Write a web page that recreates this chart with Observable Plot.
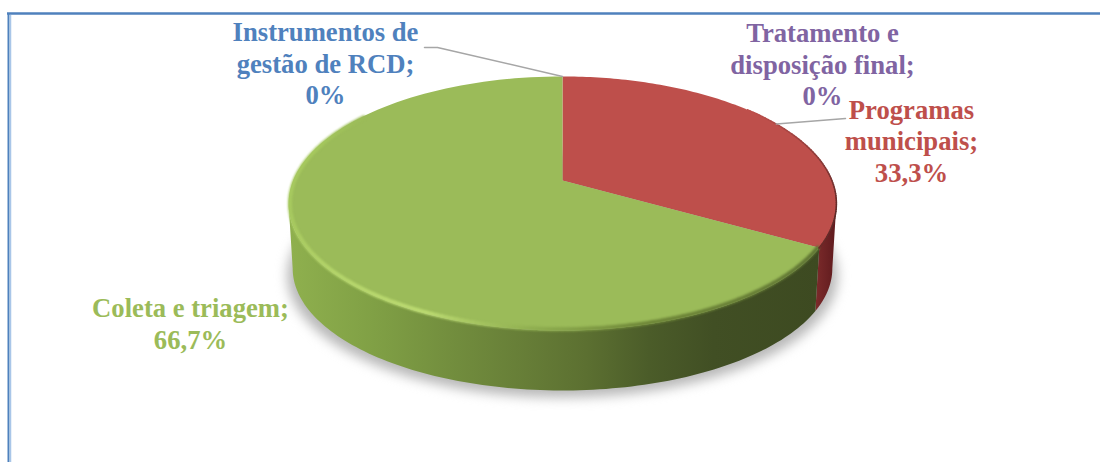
<!DOCTYPE html>
<html><head><meta charset="utf-8">
<style>html,body{margin:0;padding:0;background:#fff}svg{display:block}</style>
<script src="https://cdn.jsdelivr.net/npm/d3@7"></script>
<script src="https://cdn.jsdelivr.net/npm/@observablehq/plot@0.6"></script>
</head><body><div id="chart"></div>
<script>
const categories = ["Programas municipais", "Coleta e triagem", "Tratamento e disposição final", "Instrumentos de gestão de RCD"];
const values = [33.3, 66.7, 0, 0];
const valueLabels = ["33,3%", "66,7%", "0%", "0%"];
const wrappedNames = ["Programas\nmunicipais;", "Coleta e triagem;", "Tratamento e\ndisposição final;", "Instrumentos de\ngestão de RCD;"];
const topColors = ["#be4f4b", "#9bbb59", "#8064a2", "#4f81bd"];

// view geometry: the perspective of the tilted disc and the wall below it
const K = 0.181, CX = 562, CY = 180, AX = 269.4, BY = 122.9;
const RIM_Y = -(203 - CY) / BY, WALL_SX = 0.985, WALL_SY = 0.96, WALL_DROP = 65 / BY;
const invX = px => (px - CX) / AX, invY = py => -(py - CY) / BY;
const project = (deg, r = 1) => {
  const a = deg * Math.PI / 180, u = r * Math.sin(a), v = r * Math.cos(a), w = 1 + K * v;
  return {x: u / w, y: v / w};
};
const wallPoint = deg => {
  const p = project(deg);
  return {x: p.x * WALL_SX, y: RIM_Y + (p.y - RIM_Y) * WALL_SY - WALL_DROP};
};
const range = (a, b, n = 120) => d3.range(n + 1).map(i => a + (b - a) * i / n);

// cumulative slice angles, clockwise from 12 o'clock
const total = d3.sum(values);
let acc = 0;
const slices = values.map((v, i) => {
  const start = acc / total * 360; acc += v;
  return {name: categories[i], start, end: acc / total * 360, color: topColors[i]};
});
const [red, green] = slices;

const facePts = s => s.end > s.start
  ? [{x: 0, y: 0}, ...range(s.start, s.end).map(d => project(d)), {x: 0, y: 0}]
  : [];
const LEFT_TANGENT = 259.6, RIGHT_TANGENT = 100.4;
const wallPts = (a, b) => [...range(a, b).map(d => project(d)), ...range(b, a).map(wallPoint)];

const greenStops = [[0, "#8fb04e"], [.16, "#80a045"], [.32, "#718c3d"], [.45, "#667d37"], [.56, "#5c7031"], [.68, "#4b5c29"], [.8, "#414f24"], [1, "#3d4a21"]];
const redStops = [[0, "#7c2b2b"], [1, "#5e1a1d"]];
const gradient = (id, stops) => {
  const g = document.createElementNS("http://www.w3.org/2000/svg", "linearGradient");
  g.setAttribute("id", id);
  stops.forEach(([o, c]) => {
    const s = document.createElementNS("http://www.w3.org/2000/svg", "stop");
    s.setAttribute("offset", o); s.setAttribute("stop-color", c); g.appendChild(s);
  });
  return g;
};
const defsMark = () => {
  const d = document.createElementNS("http://www.w3.org/2000/svg", "defs");
  d.appendChild(gradient("wallGreen", greenStops));
  d.appendChild(gradient("wallRed", redStops));
  return d;
};

// bevel along the near rim of the disc
const bevelStops = [[120, "#5f7434"], [165, "#6e8638"], [185, "#8fae50"], [205, "#bcdb72"], [225, "#b6d66c"], [250, "#a8ca60"], [285, "#a6c95e"], [305, "#9bbb59"]];
const bevelColor = d3.scaleLinear().domain(bevelStops.map(d => d[0])).range(bevelStops.map(d => d[1]));
const bevel = range(120, 305, 185).map(d => ({...insetRim(d), c: bevelColor(d)}));
function insetRim(d) { const p = project(d); return {x: p.x * .995, y: RIM_Y + (p.y - RIM_Y) * .99}; }
const edgeStops = [[50, "#be4f4b"], [80, "#8a3a38"], [105, "#5c2a28"], [120, "#6b2a28"]];
const edgeColor = d3.scaleLinear().domain(edgeStops.map(d => d[0])).range(edgeStops.map(d => d[1]));
const redEdge = range(50, 120, 70).map(d => ({...project(d), c: edgeColor(d)}));

const shadow = range(0, 360, 180).map(wallPoint).map(p => ({x: p.x * 1.02, y: p.y - 7 / BY}));

const leader = [
  {id: 0, x: invX(424), y: invY(47)}, {id: 0, x: invX(437), y: invY(47)}, {id: 0, ...project(slices[3].start)},
  {id: 1, x: invX(845), y: invY(118)}, {id: 1, ...project((red.start + red.end) / 2)}
];

const labelPlacement = [
  {i: 0, x: 911, y: 139.5}, {i: 1, x: 190, y: 322.5}, {i: 2, x: 822, y: 63}, {i: 3, x: 325, y: 62}
];
const labels = labelPlacement.map(({i, x, y}) => ({
  text: wrappedNames[i] + "\n" + valueLabels[i], x: invX(x), y: invY(y), color: topColors[i]
}));

const chart = Plot.plot({
  width: 1100, height: 462,
  margin: 0,
  style: {background: "#fff"},
  x: {type: "linear", domain: [-1, 1], range: [CX - AX, CX + AX], axis: null},
  y: {type: "linear", domain: [-1, 1], range: [CY + BY, CY - BY], axis: null},
  marks: [
    defsMark,
    Plot.line(shadow, {x: "x", y: "y", fill: "#b8b8b8", stroke: "none", imageFilter: "blur(6px)"}),
    Plot.line(wallPts(RIGHT_TANGENT, red.end), {x: "x", y: "y", fill: "url(#wallRed)", stroke: "none"}),
    Plot.line(wallPts(green.start, LEFT_TANGENT), {x: "x", y: "y", fill: "url(#wallGreen)", stroke: "none"}),
    ...slices.map(s => Plot.line(facePts(s), {x: "x", y: "y", fill: s.color, stroke: "none"})),
    Plot.line(bevel, {x: "x", y: "y", z: null, stroke: "c", strokeWidth: 4, imageFilter: "blur(1.3px)"}),
    Plot.line(redEdge, {x: "x", y: "y", z: null, stroke: "c", strokeWidth: 1.5, imageFilter: "blur(0.6px)"}),
    Plot.line(leader, {x: "x", y: "y", z: "id", stroke: "#a6a6a6", strokeWidth: 1.5}),
    Plot.text(labels, {
      x: "x", y: "y", text: "text", fill: "color", textAnchor: "middle", lineAnchor: "middle",
      fontFamily: "Liberation Serif", fontWeight: "bold", fontSize: 26.67, lineHeight: 1.18
    }),
    Plot.ruleY([invY(13)], {x1: invX(7), x2: invX(1100), stroke: "#4f81bd", strokeWidth: 2.5}),
    Plot.ruleX([invX(8)], {y1: invY(13), y2: invY(462), stroke: "#4f81bd", strokeWidth: 2}),
    Plot.ruleX([invX(10)], {y1: invY(15), y2: invY(462), stroke: "#a9c6e8", strokeWidth: 1.5})
  ]
});
document.getElementById("chart").appendChild(chart);
</script></body></html>
